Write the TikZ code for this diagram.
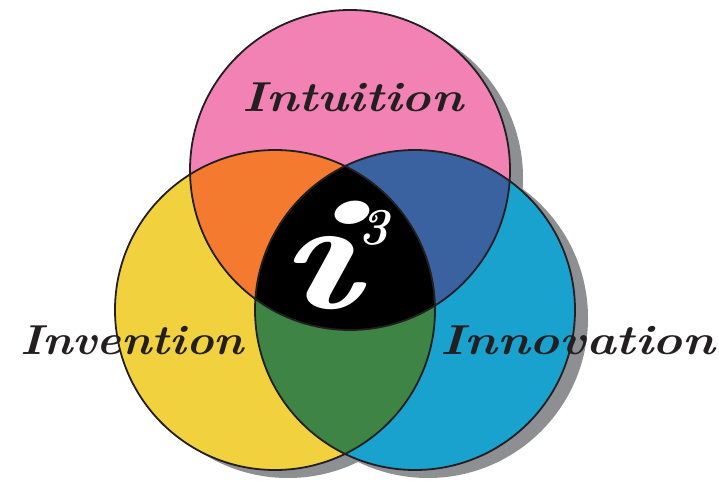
\documentclass[tikz,border=0pt]{standalone}
\usepackage{fontspec}
\usepackage{xcolor}
\usepackage{tikz}

\definecolor{intuitionpink}{RGB}{242,130,180}
\definecolor{inventionyellow}{RGB}{241,210,62}
\definecolor{innovationcyan}{RGB}{26,162,207}
\definecolor{mixorange}{RGB}{243,122,47}
\definecolor{mixblue}{RGB}{58,98,161}
\definecolor{mixgreen}{RGB}{61,132,69}
\definecolor{outline}{RGB}{35,31,32}
\definecolor{shadowgrey}{RGB}{142,143,147}

\def\intuitionring{(350,170) circle[radius=160]}
\def\inventionring{(275,310) circle[radius=160]}
\def\innovationring{(415,310) circle[radius=160]}
\newcommand{\widen}[2]{\scalebox{#1}[1]{#2}}

\begin{document}
\begin{tikzpicture}[
    x=1bp, y=-1bp,
    ring/.style={draw=outline, line width=1.8bp},
    word/.style={font=\fontsize{42}{44}\selectfont\bfseries\itshape, text=outline, inner sep=0pt, anchor=base},
    logo/.style={text=white, inner sep=0pt, anchor=base west}
]
\useasboundingbox (0,0) rectangle (719,482);

\fill[shadowgrey, shift={(13,8)}] \intuitionring;
\fill[shadowgrey, shift={(13,8)}] \inventionring;
\fill[shadowgrey, shift={(13,8)}] \innovationring;

\fill[intuitionpink] \intuitionring;
\fill[inventionyellow] \inventionring;
\fill[innovationcyan] \innovationring;

\begin{scope}
  \clip \intuitionring;
  \fill[mixorange] \inventionring;
  \fill[mixblue] \innovationring;
\end{scope}
\begin{scope}
  \clip \inventionring;
  \fill[mixgreen] \innovationring;
\end{scope}
\begin{scope}
  \clip \intuitionring;
  \clip \inventionring;
  \fill[black] \innovationring;
\end{scope}

\draw[ring] \intuitionring;
\draw[ring] \inventionring;
\draw[ring] \innovationring;

\node[word] (intuition) at (353,112) {\widen{1.18}{Intuition}};
\node[word] (invention) at (132,354) {\widen{1.11}{Invention}};
\node[word] (innovation) at (578,354) {\widen{1.2}{Innovation}};

\node[logo] (ithree) at (276,308) {\widen{1.45}{\fontsize{160}{160}\selectfont\bfseries\itshape i}\kern0bp\raisebox{63bp}{\fontsize{52}{52}\selectfont\bfseries\itshape 3}};
\end{tikzpicture}
\end{document}
